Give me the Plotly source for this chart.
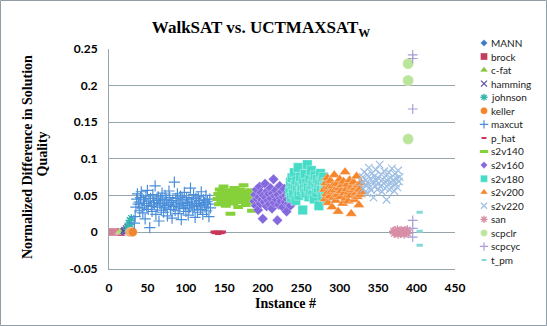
import plotly.graph_objects as go

# ---------------- data ----------------
series_names = ["MANN", "brock", "c-fat", "hamming", "johnson", "keller", "maxcut", "p_hat",
                "s2v140", "s2v160", "s2v180", "s2v200", "s2v220", "san", "scpclr", "scpcyc", "t_pm"]

mann_x = [0, 1, 2]
mann_y = [0, 0, 0]

brock_x = [3, 4, 5, 6, 7, 8, 9, 10, 11, 12, 13, 14, 15, 16]
brock_y = [0, 0, 0, 0, 0, 0, 0, 0, 0, 0, 0, 0, 0, 0]

cfat_x = [14, 15, 16, 17, 18, 19]
cfat_y = [0, 0, 0.001, 0, 0, 0.002]

hamming_x = [19, 20, 21, 22, 23, 24]
hamming_y = [0.001, 0.003, 0.0, 0.005, 0.002, 0.007]

johnson_x = [24, 25, 26, 27, 28, 29]
johnson_y = [0.004, 0.008, 0.012, 0.016, 0.010, 0.019]

keller_x = [27, 28, 29, 30, 31]
keller_y = [0, 0, 0, 0, 0]

maxcut_x0 = 33
maxcut_y = [
    0.012, 0.021, 0.034, 0.045, 0.052, 0.038, 0.041, 0.029, 0.047, 0.055,
    0.033, 0.026, 0.044, 0.039, 0.018, 0.049, 0.036, 0.057, 0.031, 0.042,
    0.006, 0.046, 0.035, 0.028, 0.051, 0.040, 0.037, 0.063, 0.024, 0.043,
    0.034, 0.048, 0.015, 0.039, 0.045, 0.030, 0.053, 0.041, 0.027, 0.036,
    0.050, 0.033, 0.044, 0.022, 0.038, 0.056, 0.047, 0.031, 0.040, 0.019,
    0.043, 0.035, 0.068, 0.029, 0.046, 0.037, 0.052, 0.025, 0.041, 0.034,
    0.049, 0.017, 0.039, 0.044, 0.032, 0.054, 0.036, 0.028, 0.047, 0.040,
    0.023, 0.045, 0.033, 0.060, 0.038, 0.042, 0.030, 0.051, 0.035, 0.020,
    0.046, 0.039, 0.027, 0.048, 0.036, 0.043, 0.031, 0.055, 0.037, 0.024,
    0.044, 0.040, 0.034, 0.050, 0.029, 0.042, 0.038, 0.021, 0.045, 0.033]

phat_x = [136, 138, 140, 142, 144, 146, 148]
phat_y = [0, -0.001, 0, -0.002, 0, -0.001, 0]

s2v140_x0 = 141
s2v140_y = [
    0.045, 0.052, 0.038, 0.058, 0.049, 0.041, 0.055, 0.047, 0.062, 0.043,
    0.050, 0.036, 0.053, 0.046, 0.057, 0.040, 0.048, 0.025, 0.054, 0.044,
    0.051, 0.039, 0.060, 0.047, 0.042, 0.056, 0.049, 0.034, 0.053, 0.045,
    0.058, 0.041, 0.050, 0.046, 0.064, 0.043, 0.052, 0.037, 0.048, 0.055,
    0.044, 0.051, 0.040, 0.057, 0.047, 0.029, 0.053, 0.049, 0.042, 0.050]

s2v160_x0 = 189
s2v160_y = [
    0.042, 0.051, 0.036, 0.058, 0.045, 0.030, 0.048, 0.062, 0.039, 0.054,
    0.044, 0.018, 0.050, 0.041, 0.066, 0.047, 0.035, 0.056, 0.043, 0.052,
    0.038, 0.060, 0.046, 0.032, 0.053, 0.072, 0.040, 0.049, 0.057, 0.044,
    0.016, 0.051, 0.037, 0.063, 0.046, 0.042, 0.055, 0.034, 0.048, 0.059,
    0.041, 0.050, 0.028, 0.045, 0.054, 0.039, 0.047, 0.036, 0.052, 0.043]

s2v180_x0 = 235
s2v180_y = [
    0.055, 0.068, 0.047, 0.074, 0.060, 0.052, 0.081, 0.064, 0.043, 0.070,
    0.058, 0.088, 0.050, 0.066, 0.075, 0.056, 0.062, 0.030, 0.071, 0.059,
    0.079, 0.053, 0.067, 0.092, 0.061, 0.048, 0.073, 0.057, 0.084, 0.065,
    0.051, 0.069, 0.045, 0.077, 0.063, 0.054, 0.072, 0.060, 0.036, 0.066,
    0.080, 0.058, 0.070, 0.049, 0.075, 0.062, 0.056, 0.068, 0.046, 0.064]

s2v200_x0 = 280
s2v200_y = [
    0.058, 0.045, 0.067, 0.052, 0.074, 0.040, 0.061, 0.049, 0.070, 0.055,
    0.034, 0.063, 0.047, 0.078, 0.057, 0.043, 0.066, 0.051, 0.028, 0.060,
    0.072, 0.048, 0.056, 0.064, 0.039, 0.069, 0.053, 0.082, 0.046, 0.059,
    0.065, 0.042, 0.054, 0.071, 0.050, 0.025, 0.062, 0.057, 0.068, 0.044,
    0.060, 0.053, 0.076, 0.048, 0.064, 0.037, 0.058, 0.051, 0.067, 0.055]

s2v220_x0 = 329
s2v220_y = [
    0.068, 0.075, 0.059, 0.082, 0.064, 0.071, 0.053, 0.078, 0.066, 0.088,
    0.061, 0.073, 0.057, 0.080, 0.069, 0.047, 0.076, 0.063, 0.085, 0.070,
    0.058, 0.074, 0.066, 0.092, 0.062, 0.079, 0.055, 0.072, 0.067, 0.083,
    0.060, 0.077, 0.044, 0.070, 0.065, 0.081, 0.058, 0.074, 0.068, 0.087,
    0.063, 0.071, 0.056, 0.079, 0.066, 0.073, 0.061, 0.084, 0.069, 0.075]

san_x0 = 370
san_y = [0.001, -0.002, 0.002, 0, -0.001, 0.003, -0.003, 0.001, 0, -0.002,
         0.002, -0.001, 0.001, 0, -0.003, 0.002, -0.001, 0.001, 0.003, -0.002]

scpclr_x = [389, 389, 389]
scpclr_y = [0.230, 0.207, 0.127]

scpcyc_x = [395, 395, 395, 395, 395, 395]
scpcyc_y = [0.242, 0.237, 0.168, 0.016, 0.005, -0.007]

tpm_x = [404, 404, 404]
tpm_y = [0.027, 0.001, -0.018]

x_ticks = [0, 50, 100, 150, 200, 250, 300, 350, 400, 450]
y_ticks = [-0.05, 0, 0.05, 0.1, 0.15, 0.2, 0.25]
y_tick_text = ["-0.05", "0", "0.05", "0.1", "0.15", "0.2", "0.25"]

# ---------------- styles ----------------
styles = {
    "MANN":    dict(symbol="diamond", color="#3F7BC8", size=6, lsize=5.5),
    "brock":   dict(symbol="square", color="#C23D5C", size=8, lsize=7),
    "c-fat":   dict(symbol="triangle-up", color="#86C23A", size=8, lsize=7),
    "hamming": dict(symbol="x-thin-open", color="#5A4CA8", size=6, lsize=6),
    "johnson": dict(symbol="asterisk-open", color="#35B5AE", size=7, lsize=6),
    "keller":  dict(symbol="circle", color="#F0852D", size=9, lsize=7),
    "maxcut":  dict(symbol="cross-thin-open", color="#4A8EDA", size=8, lsize=6),
    "p_hat":   dict(symbol="line-ew-open", color="#C8365A", size=4.5, lsize=3.5),
    "s2v140":  dict(symbol="line-ew-open", color="#86D13A", size=7, lsize=6),
    "s2v160":  dict(symbol="diamond", color="#8468DE", size=8, lsize=5.5),
    "s2v180":  dict(symbol="square", color="#46DCC8", size=9.5, lsize=7),
    "s2v200":  dict(symbol="triangle-up", color="#F5862C", size=10, lsize=7),
    "s2v220":  dict(symbol="x-thin-open", color="#9EBFE3", size=7.5, lsize=6),
    "san":     dict(symbol="asterisk-open", color="#D88FA6", size=7.5, lsize=6),
    "scpclr":  dict(symbol="circle", color="#BCE59C", size=11, lsize=7),
    "scpcyc":  dict(symbol="cross-thin-open", color="#A89FD8", size=7, lsize=6),
    "t_pm":    dict(symbol="line-ew-open", color="#86D8D6", size=4.5, lsize=3.5),
}
line_widths = {"x-thin-open": 1.2, "cross-thin-open": 1.2, "asterisk-open": 1.3}
dash_widths = {"p_hat": 3, "s2v140": 4, "t_pm": 3}

def rng(x0, ys):
    return [x0 + i for i in range(len(ys))]

data = {
    "MANN": (mann_x, mann_y),
    "brock": (brock_x, brock_y),
    "c-fat": (cfat_x, cfat_y),
    "hamming": (hamming_x, hamming_y),
    "johnson": (johnson_x, johnson_y),
    "keller": (keller_x, keller_y),
    "maxcut": (rng(maxcut_x0, maxcut_y), maxcut_y),
    "p_hat": (phat_x, phat_y),
    "s2v140": (rng(s2v140_x0, s2v140_y), s2v140_y),
    "s2v160": (rng(s2v160_x0, s2v160_y), s2v160_y),
    "s2v180": (rng(s2v180_x0, s2v180_y), s2v180_y),
    "s2v200": (rng(s2v200_x0, s2v200_y), s2v200_y),
    "s2v220": (rng(s2v220_x0, s2v220_y), s2v220_y),
    "san": (rng(san_x0, san_y), san_y),
    "scpclr": (scpclr_x, scpclr_y),
    "scpcyc": (scpcyc_x, scpcyc_y),
    "t_pm": (tpm_x, tpm_y),
}

def marker_for(name, legend=False):
    s = styles[name]
    sym = s["symbol"]
    sz = s["lsize"] if legend else s["size"]
    if sym == "line-ew-open":
        w = dash_widths[name] - (1 if legend else 0)
        return dict(symbol=sym, size=sz, color=s["color"], line=dict(color=s["color"], width=w))
    if sym.endswith("-open"):
        return dict(symbol=sym, size=sz, color=s["color"],
                    line=dict(color=s["color"], width=line_widths[sym]))
    return dict(symbol=sym, size=sz, color=s["color"],
                line=dict(color="rgba(255,255,255,0.55)", width=0.6))

fig = go.Figure()
for name in series_names:
    xs, ys = data[name]
    fig.add_trace(go.Scatter(x=xs, y=ys, mode="markers", name=name,
                             marker=marker_for(name), showlegend=False,
                             xaxis="x", yaxis="y"))

# custom legend on a hidden helper axis (plotly's built-in legend rows are too tall)
for i, name in enumerate(series_names):
    fig.add_trace(go.Scatter(x=[6], y=[i], mode="markers", showlegend=False,
                             marker=marker_for(name, legend=True),
                             xaxis="x2", yaxis="y2", hoverinfo="skip"))
    fig.add_annotation(x=11, y=i, xref="x2", yref="y2", text=name, showarrow=False,
                       xanchor="left", yanchor="middle",
                       font=dict(family="Lato", size=10, color="#222222"))

W, H = 547, 326
grid_col = "#96A4AC"
fig.update_layout(
    template="none",
    width=W, height=H, autosize=False,
    margin=dict(l=0, r=0, t=0, b=0, pad=0),
    paper_bgcolor="white", plot_bgcolor="white",
    title=dict(text="<b>WalkSAT vs. UCTMAXSAT<sub>W</sub></b>",
               x=261 / W, xanchor="center", y=1 - 27 / H, yanchor="middle",
               yref="container", xref="paper",
               font=dict(family="Liberation Serif", size=17, color="black")),
    xaxis=dict(domain=[109 / W, 455 / W], range=[0, 450], tickvals=x_ticks,
               automargin=False,
               showgrid=False, zeroline=False, showline=True, linecolor=grid_col,
               linewidth=1, ticks="", ticklabelstandoff=8,
               tickfont=dict(family="Lato", size=12, color="black", weight="bold")),
    yaxis=dict(domain=[(H - 268.6) / H, (H - 49) / H], range=[-0.05, 0.25],
               tickvals=y_ticks, ticktext=y_tick_text, automargin=False,
               showgrid=True, gridcolor=grid_col, gridwidth=1, zeroline=False,
               showline=True, linecolor=grid_col, linewidth=1, ticks="",
               ticklabelstandoff=8,
               tickfont=dict(family="Lato", size=12, color="black", weight="bold")),
    xaxis2=dict(domain=[478 / W, 546 / W], range=[0, 68], visible=False,
                fixedrange=True, automargin=False),
    yaxis2=dict(domain=[(H - 266.8) / H, (H - 36.2) / H], range=[16.5, -0.5],
                visible=False, fixedrange=True, automargin=False),
    showlegend=False,
)
fig.add_shape(type="rect", xref="paper", yref="paper", x0=0.5 / W, x1=1 - 0.5 / W,
              y0=0.5 / H, y1=1 - 0.5 / H, line=dict(color="#8F9EA6", width=1))

# axis titles
fig.add_annotation(text="<b>Normalized Difference in Solution</b>", textangle=-90,
                   xref="paper", yref="paper", x=27 / W, y=(H - 157) / H,
                   xanchor="center", yanchor="middle", showarrow=False,
                   font=dict(family="Liberation Serif", size=14, color="black"))
fig.add_annotation(text="<b>Quality</b>", textangle=-90,
                   xref="paper", yref="paper", x=41.5 / W, y=(H - 154) / H,
                   xanchor="center", yanchor="middle", showarrow=False,
                   font=dict(family="Liberation Serif", size=14, color="black"))
fig.add_annotation(text="<b>Instance #</b>", xref="paper", yref="paper",
                   x=285 / W, y=(H - 303) / H, xanchor="center", yanchor="middle",
                   showarrow=False,
                   font=dict(family="Liberation Serif", size=14, color="black"))

fig.write_html("out.html", config={"responsive": False, "displayModeBar": False},
               post_script="document.body.style.margin='0';document.body.style.padding='0';"
                           "document.documentElement.style.overflow='hidden';")
